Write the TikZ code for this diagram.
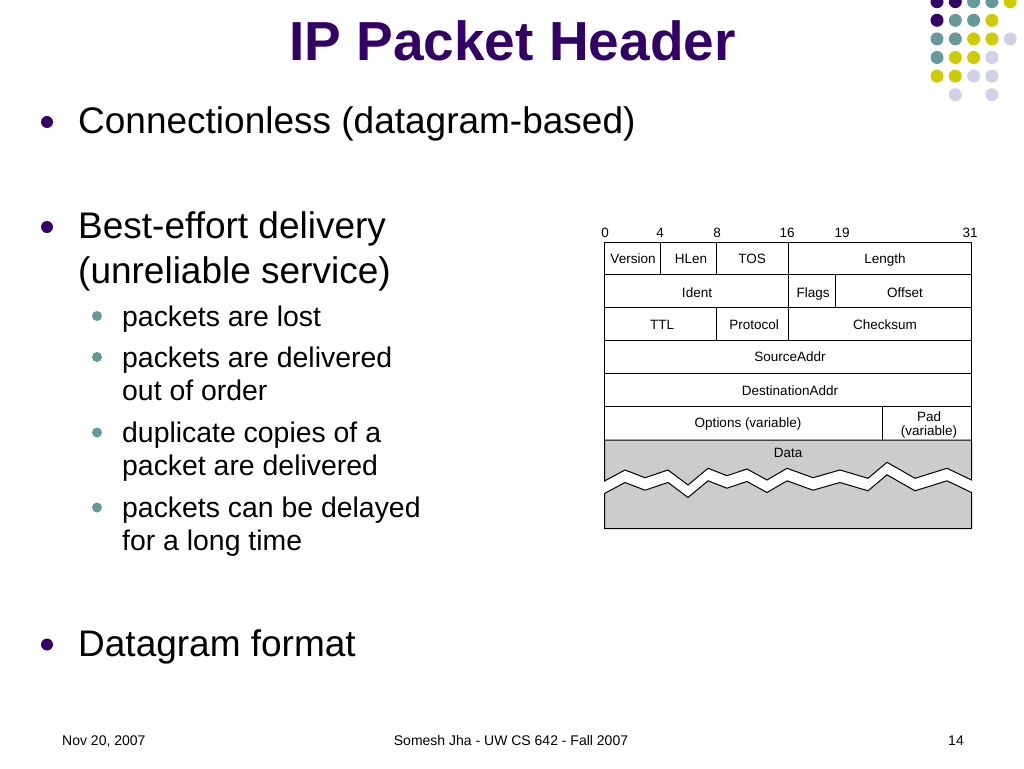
\documentclass[tikz,border=0pt]{standalone}
\usepackage{fontspec}
\setmainfont{Liberation Sans}
\usepackage{xcolor}
\usepackage{tikz}
\definecolor{slidepurple}{RGB}{51,0,102}
\definecolor{slideteal}{RGB}{102,153,153}
\definecolor{slideyellow}{RGB}{204,204,0}
\definecolor{slidelilac}{RGB}{208,208,230}
\tikzset{
  titletext/.style={anchor=base, inner sep=0pt, text=slidepurple, font=\bfseries\fontsize{55}{60}\selectfont},
  mainline/.style={anchor=base west, inner sep=0pt, font=\fontsize{37}{44}\selectfont},
  subline/.style={anchor=base west, inner sep=0pt, font=\fontsize{28.4}{34}\selectfont},
  footline/.style={inner sep=0pt, font=\fontsize{14}{16}\selectfont},
  celltext/.style={inner sep=0pt, text height=9.7pt, text depth=0pt, font=\fontsize{13.5}{16}\selectfont},
  cellline/.style={line width=1pt},
  datafill/.style={fill=black!20, draw=black, line width=1pt}
}
\newcommand{\zigzagpts}{604.5/481,625/470,645/477.7,668/470,688/485,708/468.3,727/475.7,747/469,767/480,787/468.3,813/477.7,840/470,868/478.3,887/462.3,915/478.3,947/468.3,971.5/480}

\begin{document}
\begin{tikzpicture}[x=1pt,y=-1pt]
\useasboundingbox (0,0) rectangle (1024,768);
\fill[white] (0,0) rectangle (1024,768);

\foreach \c/\r/\col in {0/0/slidepurple,1/0/slidepurple,2/0/slideteal,3/0/slideteal,4/0/slideyellow,
  0/1/slidepurple,1/1/slideteal,2/1/slideteal,3/1/slideyellow,
  0/2/slideteal,1/2/slideteal,2/2/slideyellow,3/2/slideyellow,4/2/slidelilac,
  0/3/slideteal,1/3/slideyellow,2/3/slideyellow,3/3/slidelilac,
  0/4/slideyellow,1/4/slideyellow,2/4/slidelilac,3/4/slidelilac,
  1/5/slidelilac,3/5/slidelilac}
  \fill[\col] ({937+18.3*\c},{1.7+18.6*\r}) circle[radius=6.5pt];

\node[titletext] (title) at (512.5,60) {IP Packet Header};

\fill[slidepurple] (47,122) circle[radius=6pt];
\node[mainline] (conn) at (78,133) {Connectionless (datagram-based)};
\fill[slidepurple] (47,227) circle[radius=6pt];
\node[mainline] (best) at (78,238.5) {Best-effort delivery};
\node[mainline] (unrel) at (78,283.5) {(unreliable service)};
\fill[slideteal] (97,316) circle[radius=5pt];
\node[subline] (lost) at (122,326) {packets are lost};
\fill[slideteal] (97,357) circle[radius=5pt];
\node[subline] (order1) at (122,367) {packets are delivered};
\node[subline] (order2) at (122,400.5) {out of order};
\fill[slideteal] (97,432.5) circle[radius=5pt];
\node[subline] (dup1) at (122,442.5) {duplicate copies of a};
\node[subline] (dup2) at (122,475.5) {packet are delivered};
\fill[slideteal] (97,507.5) circle[radius=5pt];
\node[subline] (delay1) at (122,517.5) {packets can be delayed};
\node[subline] (delay2) at (122,550.5) {for a long time};
\fill[slidepurple] (47,644.5) circle[radius=6pt];
\node[mainline] (fmt) at (78,656) {Datagram format};

\node[celltext] (bit0) at (605,232.7) {0};
\node[celltext] (bit4) at (660,232.7) {4};
\node[celltext] (bit8) at (717,232.7) {8};
\node[celltext] (bit16) at (787,232.7) {16};
\node[celltext] (bit19) at (842,232.7) {19};
\node[celltext] (bit31) at (970,232.7) {31};

\draw[cellline] (604.5,242) rectangle (660.5,274.5);
\draw[cellline] (660.5,242) rectangle (716.5,274.5);
\draw[cellline] (716.5,242) rectangle (788.5,274.5);
\draw[cellline] (788.5,242) rectangle (971.5,274.5);
\draw[cellline] (604.5,274.5) rectangle (788.5,307.5);
\draw[cellline] (788.5,274.5) rectangle (835,307.5);
\draw[cellline] (835,274.5) rectangle (971.5,307.5);
\draw[cellline] (604.5,307.5) rectangle (716.5,340.5);
\draw[cellline] (716.5,307.5) rectangle (788.5,340.5);
\draw[cellline] (788.5,307.5) rectangle (971.5,340.5);
\draw[cellline] (604.5,340.5) rectangle (971.5,373.5);
\draw[cellline] (604.5,373.5) rectangle (971.5,406.5);
\draw[cellline] (604.5,406.5) rectangle (882.5,440);
\draw[cellline] (882.5,406.5) rectangle (971.5,440);

\node[celltext] (version) at (633,259) {Version};
\node[celltext] (hlen) at (691,259) {HLen};
\node[celltext] (tos) at (752,258.5) {TOS};
\node[celltext] (length) at (885,259) {Length};
\node[celltext] (ident) at (697,292.5) {Ident};
\node[celltext] (flags) at (813,292.5) {Flags};
\node[celltext] (offset) at (905,292.5) {Offset};
\node[celltext] (ttl) at (662,325) {TTL};
\node[celltext] (protocol) at (754,325) {Protocol};
\node[celltext] (checksum) at (885,325) {Checksum};
\node[celltext] (srcaddr) at (790,357) {SourceAddr};
\node[celltext] (dstaddr) at (790,390.5) {DestinationAddr};
\node[celltext] (options) at (748,422.5) {Options (variable)};
\node[celltext] (pad) at (929,416.5) {Pad};
\node[celltext] (padvar) at (929,430.5) {(variable)};

\filldraw[datafill] (604.5,440) \foreach \zx/\zy in \zigzagpts {-- (\zx,\zy)} -- (971.5,440) -- cycle;
\filldraw[datafill] (604.5,528.5) \foreach \zx/\zy in \zigzagpts {-- (\zx,\zy+12.5)} -- (971.5,528.5) -- cycle;
\node[celltext] (data) at (788,452.5) {Data};

\node[footline, anchor=base west] (date) at (62,745) {Nov 20, 2007};
\node[footline, anchor=base] (author) at (511,745) {Somesh Jha - UW CS 642 - Fall 2007};
\node[footline, anchor=base east] (page) at (964,745) {14};
\end{tikzpicture}
\end{document}
